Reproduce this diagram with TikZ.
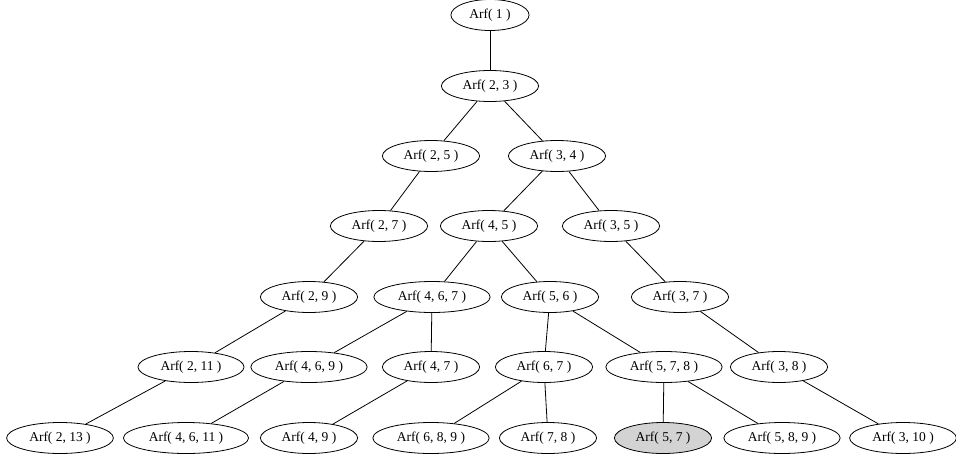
\documentclass[tikz,border=0pt]{standalone}
\usepackage{fontspec}
\setmainfont{Liberation Serif}
\usetikzlibrary{shapes.geometric}
\definecolor{lgray}{HTML}{D3D3D3}
\begin{document}
\begin{tikzpicture}[x=1pt,y=-1pt,
  arf/.style={ellipse,draw,line width=0.8pt,inner xsep=7pt,inner ysep=0pt,minimum height=31pt,
    font=\fontsize{13.5}{14}\selectfont},
  edge/.style={draw,line width=0.8pt}]
\useasboundingbox (0,0) rectangle (956,461);
% row 1
\node[arf] (n1) at (490,15) {Arf( 1 )};
% row 2
\node[arf] (n23) at (490,86) {Arf( 2, 3 )};
% row 3
\node[arf] (n25) at (431,156) {Arf( 2, 5 )};
\node[arf] (n34) at (557,156) {Arf( 3, 4 )};
% row 4
\node[arf] (n27) at (379,226) {Arf( 2, 7 )};
\node[arf] (n45) at (489,226) {Arf( 4, 5 )};
\node[arf] (n35) at (611,226) {Arf( 3, 5 )};
% row 5
\node[arf] (n29) at (309,297) {Arf( 2, 9 )};
\node[arf] (n467) at (432,297) {Arf( 4, 6, 7 )};
\node[arf] (n56) at (550,297) {Arf( 5, 6 )};
\node[arf] (n37) at (680,297) {Arf( 3, 7 )};
% row 6
\node[arf] (n211) at (191,367) {Arf( 2, 11 )};
\node[arf] (n469) at (309,367) {Arf( 4, 6, 9 )};
\node[arf] (n47) at (431,367) {Arf( 4, 7 )};
\node[arf] (n67) at (544,367) {Arf( 6, 7 )};
\node[arf] (n578) at (664,367) {Arf( 5, 7, 8 )};
\node[arf] (n38) at (779,367) {Arf( 3, 8 )};
% row 7
\node[arf] (n213) at (60,438) {Arf( 2, 13 )};
\node[arf] (n4611) at (186,438) {Arf( 4, 6, 11 )};
\node[arf] (n49) at (309,438) {Arf( 4, 9 )};
\node[arf] (n689) at (431,438) {Arf( 6, 8, 9 )};
\node[arf] (n78) at (548,438) {Arf( 7, 8 )};
\node[arf,fill=lgray] (n57) at (663,438) {Arf( 5, 7 )};
\node[arf] (n589) at (782,438) {Arf( 5, 8, 9 )};
\node[arf] (n310) at (903,438) {Arf( 3, 10 )};
% edges
\path[edge] (n1) -- (n23);
\path[edge] (n23) -- (n25);
\path[edge] (n23) -- (n34);
\path[edge] (n25) -- (n27);
\path[edge] (n34) -- (n45);
\path[edge] (n34) -- (n35);
\path[edge] (n27) -- (n29);
\path[edge] (n45) -- (n467);
\path[edge] (n45) -- (n56);
\path[edge] (n35) -- (n37);
\path[edge] (n29) -- (n211);
\path[edge] (n467) -- (n469);
\path[edge] (n467) -- (n47);
\path[edge] (n56) -- (n67);
\path[edge] (n56) -- (n578);
\path[edge] (n37) -- (n38);
\path[edge] (n211) -- (n213);
\path[edge] (n469) -- (n4611);
\path[edge] (n47) -- (n49);
\path[edge] (n67) -- (n689);
\path[edge] (n67) -- (n78);
\path[edge] (n578) -- (n57);
\path[edge] (n578) -- (n589);
\path[edge] (n38) -- (n310);
\end{tikzpicture}
\end{document}
